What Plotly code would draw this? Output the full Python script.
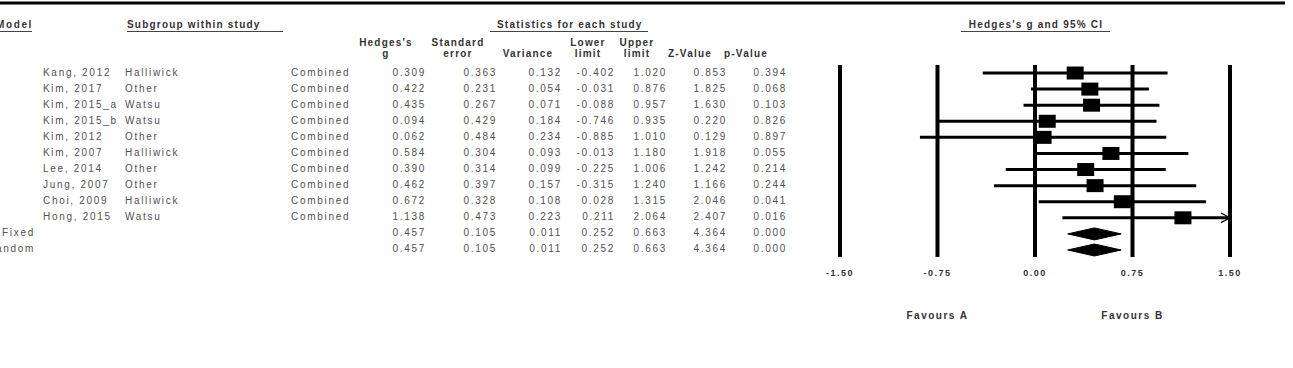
import plotly.graph_objects as go

# ---------------- data ----------------
studies = ["Kang, 2012", "Kim, 2017", "Kim, 2015_a", "Kim, 2015_b", "Kim, 2012",
           "Kim, 2007", "Lee, 2014", "Jung, 2007", "Choi, 2009", "Hong, 2015"]
subgroups = ["Halliwick", "Other", "Watsu", "Watsu", "Other",
             "Halliwick", "Other", "Other", "Halliwick", "Watsu"]
outcome = ["Combined"] * 10
hedges_g = [0.309, 0.422, 0.435, 0.094, 0.062, 0.584, 0.390, 0.462, 0.672, 1.138]
std_err = [0.363, 0.231, 0.267, 0.429, 0.484, 0.304, 0.314, 0.397, 0.328, 0.473]
variance = [0.132, 0.054, 0.071, 0.184, 0.234, 0.093, 0.099, 0.157, 0.108, 0.223]
lower = [-0.402, -0.031, -0.088, -0.746, -0.885, -0.013, -0.225, -0.315, 0.028, 0.211]
upper = [1.020, 0.876, 0.957, 0.935, 1.010, 1.180, 1.006, 1.240, 1.315, 2.064]
z_value = [0.853, 1.825, 1.630, 0.220, 0.129, 1.918, 1.242, 1.166, 2.046, 2.407]
p_value = [0.394, 0.068, 0.103, 0.826, 0.897, 0.055, 0.214, 0.244, 0.041, 0.016]

models = ["Fixed", "Random"]
sum_g = [0.457, 0.457]
sum_se = [0.105, 0.105]
sum_var = [0.011, 0.011]
sum_lower = [0.252, 0.252]
sum_upper = [0.663, 0.663]
sum_z = [4.364, 4.364]
sum_p = [0.000, 0.000]

tick_vals = [-1.50, -0.75, 0.00, 0.75, 1.50]
tick_text = ["-1.50", "-0.75", "0.00", "0.75", "1.50"]
favours = ["Favours A", "Favours B"]

# ---------------- layout helpers ----------------
W, H = 1293, 368
ROW0, ROWH = 73.0, 16.09
def Y(px):
    return (px - ROW0) / ROWH

FONT = "Liberation Sans, Arial, sans-serif"
GRAY = "#505050"
DARK = "#333333"

def sp(t, s=1.8):
    return f'<span style="letter-spacing:{s}px">{t}</span>'

fig = go.Figure()

n = len(studies)
rows = list(range(n))
srows = [n, n + 1]
allrows = rows + srows

def text_col(xpos, ys, texts, pos, size=10, color=GRAY, bold=False, s=1.7):
    t = [sp(f"<b>{v}</b>" if bold else v, s) for v in texts]
    fig.add_trace(go.Scatter(
        x=[xpos] * len(ys), y=ys, text=t, mode="text", textposition=pos,
        textfont=dict(family=FONT, size=size, color=color),
        xaxis="x2", yaxis="y", cliponaxis=False, hoverinfo="skip", showlegend=False))

fmt = lambda a: [f"{v:.3f}" for v in a]

# table body
text_col(35, srows, models, "middle left")
text_col(43, rows, studies, "middle right")
text_col(125, rows, subgroups, "middle right")
text_col(291, rows, outcome, "middle right")
cols_right = [(426, hedges_g, sum_g), (497, std_err, sum_se), (562, variance, sum_var),
              (615, lower, sum_lower), (667, upper, sum_upper), (727, z_value, sum_z),
              (787, p_value, sum_p)]
for xr, a, b in cols_right:
    text_col(xr, allrows, fmt(a) + fmt(b), "middle left")

# column headers
HS, HSP = 10, 1.2
hdr = [(386, "Hedges's", "g"), (458, "Standard", "error"), (528, None, "Variance"),
       (588, "Lower", "limit"), (637, "Upper", "limit"), (690, None, "Z-Value"),
       (746, None, "p-Value")]
for xc, l1, l2 in hdr:
    if l1:
        text_col(xc, [Y(43)], [l1], "middle center", size=HS, color=DARK, bold=True, s=HSP)
    text_col(xc, [Y(54)], [l2], "middle center", size=HS, color=DARK, bold=True, s=HSP)

# group headers
text_col(33, [Y(25)], ["Model"], "middle left", size=HS, color=DARK, bold=True, s=1.6)
text_col(127, [Y(25)], ["Subgroup within study"], "middle right", size=HS, color=DARK, bold=True, s=HSP)
text_col(497, [Y(25)], ["Statistics for each study"], "middle right", size=HS, color=DARK, bold=True, s=HSP)
text_col(1036, [Y(25)], ["Hedges's g and 95% CI"], "middle center", size=HS, color=DARK, bold=True, s=HSP)

shapes = []
shapes.append(dict(type="line", xref="x2", yref="y", x0=0, x1=1285, y0=Y(3), y1=Y(3),
                   line=dict(color="black", width=3)))
for x0, x1 in [(0, 32), (127, 283), (490, 648), (961, 1110)]:
    shapes.append(dict(type="line", xref="x2", yref="y", x0=x0, x1=x1, y0=Y(31.5), y1=Y(31.5),
                       line=dict(color="#444444", width=1)))

# ---------------- forest plot ----------------
XMIN, XMAX = -1.5, 1.5
vx, vy = [], []
for t in tick_vals:
    vx += [t, t, None]
    vy += [Y(65), Y(257), None]
fig.add_trace(go.Scatter(x=vx, y=vy, mode="lines", line=dict(color="black", width=4),
                         hoverinfo="skip", showlegend=False))

cx, cy = [], []
for i in rows:
    cx += [max(lower[i], XMIN), min(upper[i], XMAX), None]
    cy += [i, i, None]
fig.add_trace(go.Scatter(x=cx, y=cy, mode="lines", line=dict(color="black", width=3),
                         hoverinfo="skip", showlegend=False))

# arrow for clipped CI
ax, ay = [], []
for i in rows:
    if upper[i] > XMAX:
        ax += [XMAX - 0.07, XMAX, XMAX - 0.07, None]
        ay += [i - 0.3, i, i + 0.3, None]
fig.add_trace(go.Scatter(x=ax, y=ay, mode="lines", line=dict(color="black", width=1.2),
                         hoverinfo="skip", showlegend=False))

# squares
HW, HH = 8.5 / 130.0, 6.5 / ROWH
for i in rows:
    shapes.append(dict(type="rect", xref="x", yref="y",
                       x0=hedges_g[i] - HW, x1=hedges_g[i] + HW, y0=i - HH, y1=i + HH,
                       fillcolor="black", line=dict(width=0)))

# diamonds
DH = 6.0 / ROWH
for k, r in enumerate(srows):
    fig.add_trace(go.Scatter(
        x=[sum_lower[k], sum_g[k], sum_upper[k], sum_g[k], sum_lower[k]],
        y=[r, r - DH, r, r + DH, r], mode="lines", fill="toself",
        fillcolor="black", line=dict(color="black", width=1),
        hoverinfo="skip", showlegend=False))

# tick labels and favours labels
fig.add_trace(go.Scatter(x=tick_vals, y=[Y(274)] * len(tick_vals),
                         text=[sp(f"<b>{t}</b>", 1.5) for t in tick_text],
                         mode="text", textposition="middle center",
                         textfont=dict(family=FONT, size=9, color=DARK),
                         cliponaxis=False, hoverinfo="skip", showlegend=False))
fig.add_trace(go.Scatter(x=[-0.75, 0.75], y=[Y(316)] * 2,
                         text=[sp(f"<b>{t}</b>", 1.5) for t in favours],
                         mode="text", textposition="middle center",
                         textfont=dict(family=FONT, size=10, color=DARK),
                         cliponaxis=False, hoverinfo="skip", showlegend=False))

PXU = 130.0
x_left = XMIN - (840 - 800) / PXU
x_right = XMAX + (1270 - 1230) / PXU

fig.update_layout(
    width=W, height=H, margin=dict(l=0, r=0, t=0, b=0),
    paper_bgcolor="white", plot_bgcolor="rgba(0,0,0,0)", showlegend=False,
    xaxis=dict(domain=[800 / W, 1270 / W], range=[x_left, x_right], visible=False, fixedrange=True),
    xaxis2=dict(domain=[0, 1], range=[0, W], visible=False, anchor="y", fixedrange=True),
    yaxis=dict(domain=[0, 1], range=[Y(H), Y(0)], visible=False, fixedrange=True),
    shapes=shapes,
)

fig.write_html("out.html")
